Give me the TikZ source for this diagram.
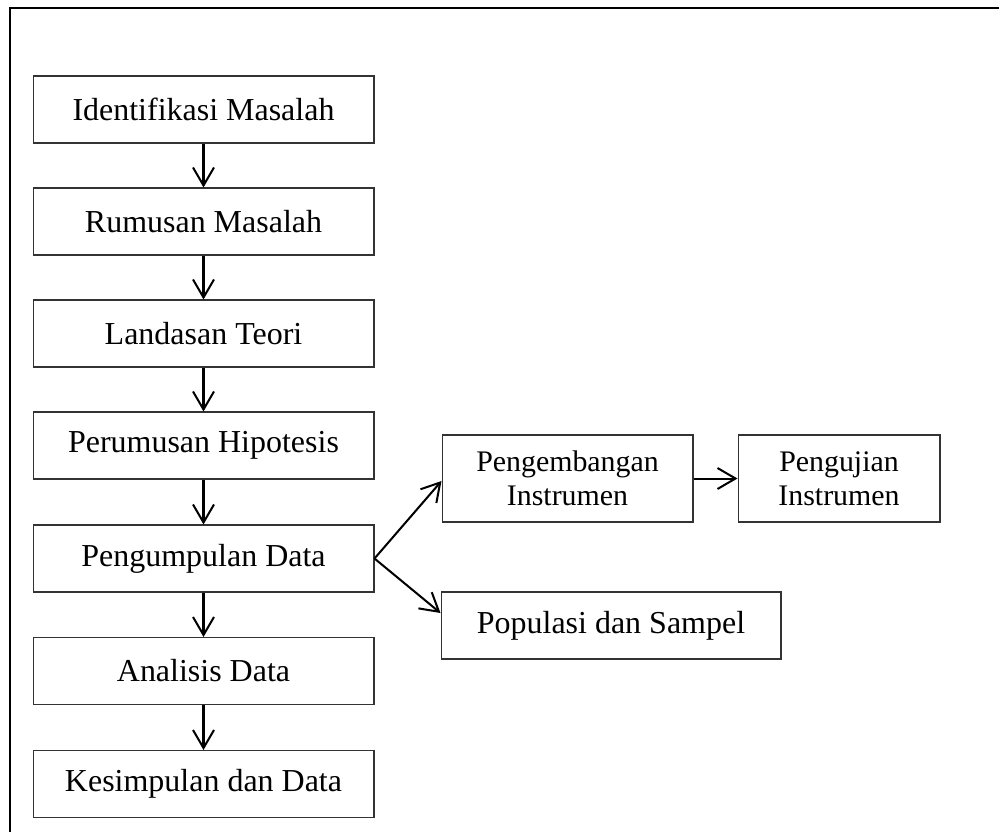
\documentclass[tikz,border=0pt]{standalone}
\usepackage{fontspec}
\setmainfont{Liberation Serif}
\usetikzlibrary{arrows.meta}

\tikzset{
  kotak/.style={draw=black!80,line width=0.6pt,minimum width=6.82cm,minimum height=1.34cm,
    inner sep=0pt,align=center,font=\fontsize{18.2}{21}\selectfont},
  kotakkecil/.style={kotak,minimum height=1.74cm,font=\fontsize{17}{19.5}\selectfont},
  panah/.style={line width=1.15pt,-{Straight Barb[length=0.36cm,width=0.42cm,line width=1.15pt]}}
}

\begin{document}
\begin{tikzpicture}[x=0.02cm,y=-0.02cm]
            \useasboundingbox (0,0) rectangle (999,832);
            \draw[line width=1.1pt] (999,8) -- (10,8) -- (10,832);

            \node (im) at (203.5,109.5) [kotak] {Identifikasi Masalah};
            \node (rm) at (203.5,221.5) [kotak] {Rumusan Masalah};
            \node (lt) at (203.5,333.5) [kotak] {Landasan Teori};
            \node (ph) at (203.5,445.5) [kotak] {Perumusan Hipotesis};
            \node (pd) at (203.5,558.5) [kotak] {Pengumpulan Data};
            \node (ad) at (203.5,671) [kotak] {Analisis Data};
            \node (kd) at (203.5,784) [kotak] {Kesimpulan dan Data};

            \node (pi) at (567.5,478.5) [kotakkecil,minimum width=5.02cm] {Pengembangan\\Instrumen};
            \node (ui) at (839,478.5) [kotakkecil,minimum width=4.04cm] {Pengujian\\Instrumen};
            \node (ps) at (611,625.5) [kotak,minimum width=6.8cm] {Populasi dan Sampel};

            \draw[panah] (im) -- (rm);
            \draw[panah] (rm) -- (lt);
            \draw[panah] (lt) -- (ph);
            \draw[panah] (ph) -- (pd);
            \draw[panah] (pd) -- (ad);
            \draw[panah] (ad) -- (kd);
            \draw[panah] (pd.east) -- ([yshift=-0.05cm]pi.west);
            \draw[panah] (pd.east) -- ([yshift=0.25cm]ps.west);
            \draw[panah] (pi) -- (ui);
        \end{tikzpicture}
\end{document}
